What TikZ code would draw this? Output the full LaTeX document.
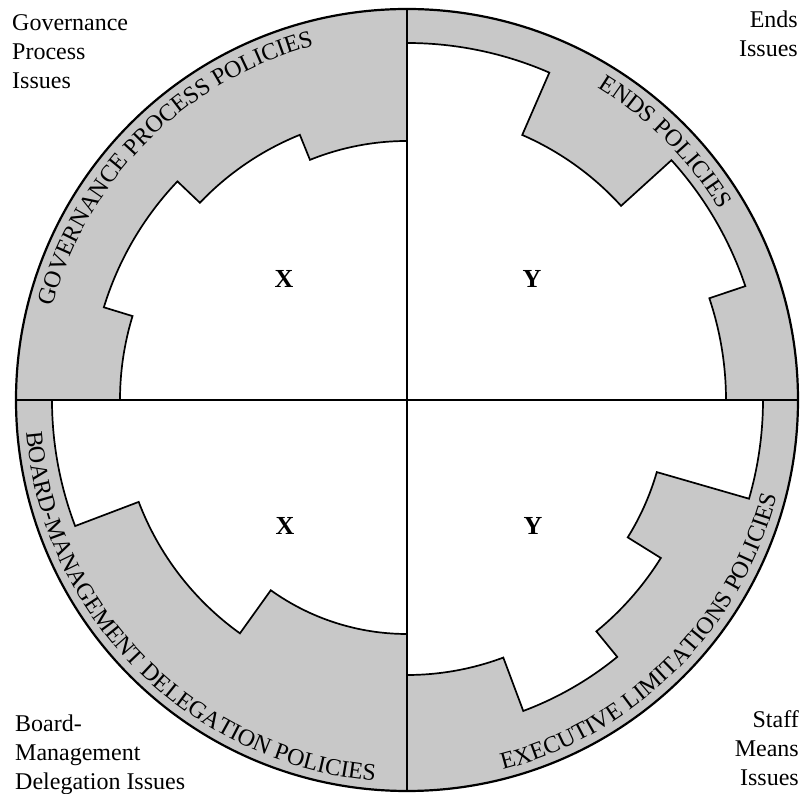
\documentclass[tikz,border=0pt]{standalone}
\usepackage{fontspec}
\setmainfont{Liberation Serif}
\usetikzlibrary{decorations.text}
\definecolor{ringgray}{RGB}{200,200,200}
\newcommand{\ringfont}{\fontsize{24}{24}\selectfont}

\begin{document}
\begin{tikzpicture}[
  x=1pt, y=1pt,
  corner/.style={font=\fontsize{24}{29}\selectfont, inner sep=0pt},
  quad/.style={font=\fontsize{26}{26}\selectfont\bfseries, inner sep=0pt},
  cell/.style={fill=white, draw=black, line width=1.7pt, line join=miter},
  ringtext/.style={decorate, decoration={text along path, text align=center,
    text={|\ringfont|#1}}}
]
\useasboundingbox (-407,-394) rectangle (397,400);
\coordinate (c) at (0,0);
\fill[ringgray] (c) circle[radius=391];

\draw[cell] (c) -- (90:357) arc[start angle=90, end angle=66.5, radius=357]
  -- (66.5:289) arc[start angle=66.5, end angle=42.2, radius=289]
  -- (42.2:357) arc[start angle=42.2, end angle=18.6, radius=357]
  -- (18.6:319) arc[start angle=18.6, end angle=0, radius=319] -- cycle;
\draw[cell] (c) -- (90:259) arc[start angle=90, end angle=112, radius=259]
  -- (112:286) arc[start angle=112, end angle=136.4, radius=286]
  -- (136.4:317) arc[start angle=136.4, end angle=163, radius=317]
  -- (163:287) arc[start angle=163, end angle=180, radius=287] -- cycle;
\draw[cell] (c) -- (180:355) arc[start angle=180, end angle=200.8, radius=355]
  -- (200.8:287) arc[start angle=200.8, end angle=234.4, radius=287]
  -- (234.4:234) arc[start angle=234.4, end angle=270, radius=234] -- cycle;
\draw[cell] (c) -- (270:275) arc[start angle=270, end angle=290.5, radius=275]
  -- (290.5:332) arc[start angle=290.5, end angle=309.3, radius=332]
  -- (309.3:299) arc[start angle=309.3, end angle=328.1, radius=299]
  -- (328.1:260) arc[start angle=328.1, end angle=343.9, radius=260]
  -- (343.9:356) arc[start angle=343.9, end angle=360, radius=356] -- cycle;

\draw[line width=1.2pt] (180:391) -- (0:391);
\draw[line width=1.2pt] (270:391) -- (90:391);
\draw[line width=2.2pt] (c) circle[radius=391];

\path[ringtext=GOVERNANCE PROCESS POLICIES] (180:366) arc[start angle=180, end angle=90, radius=366];
\path[ringtext=ENDS POLICIES] (90:366) arc[start angle=90, end angle=0, radius=366];
\path[ringtext=BOARD-MANAGEMENT DELEGATION POLICIES] (180:382) arc[start angle=180, end angle=270, radius=382];
\path[ringtext=EXECUTIVE LIMITATIONS POLICIES] (270:382) arc[start angle=270, end angle=360, radius=382];

\node[quad] (xtop) at (-123,121) {X};
\node[quad] (ytop) at (125,121) {Y};
\node[quad] (xbot) at (-122,-126) {X};
\node[quad] (ybot) at (126,-126) {Y};

\node[corner, anchor=north west, align=left] (govissues) at (-395,386) {Governance\\Process\\Issues};
\node[corner, anchor=north east, align=right] (endsissues) at (391,389) {Ends\\Issues};
\node[corner, anchor=north west, align=left] (delissues) at (-392,-315) {Board-\\Management\\Delegation Issues};
\node[corner, anchor=north east, align=right] (staffissues) at (392,-310) {Staff\\Means\\Issues};
\end{tikzpicture}
\end{document}
